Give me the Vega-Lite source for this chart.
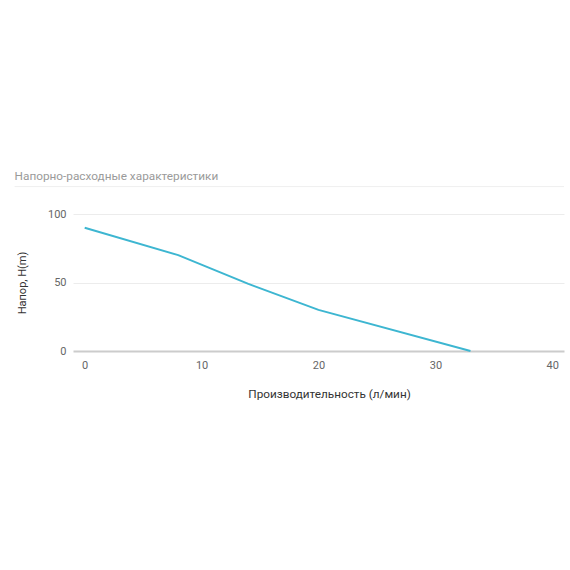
{
  "$schema": "https://vega.github.io/schema/vega-lite/v6.json",
  "width": 491,
  "height": 137,
  "autosize": {"type": "none"},
  "padding": {"left": 73, "top": 214, "right": 6, "bottom": 219},
  "background": "white",
  "config": {
    "view": {"stroke": null},
    "font": "Roboto"
  },
  "title": {
    "text": "Напорно-расходные характеристики",
    "anchor": "start",
    "dx": 2,
    "offset": 2,
    "fontSize": 11.8,
    "fontWeight": "normal",
    "color": "#9a9a9a",
    "font": "Roboto"
  },
  "datasets": {
    "curve": [
      {"q": 0, "h": 90},
      {"q": 8, "h": 70},
      {"q": 14, "h": 49},
      {"q": 20, "h": 30},
      {"q": 33, "h": 0}
    ],
    "sep": [
      {"q": -6, "h": 120},
      {"q": 41, "h": 120}
    ]
  },
  "layer": [
    {
      "data": {"name": "sep"},
      "mark": {"type": "line", "color": "#efefef", "strokeWidth": 1, "clip": false},
      "encoding": {
        "x": {"field": "q", "type": "quantitative"},
        "y": {"field": "h", "type": "quantitative"}
      }
    },
    {
      "data": {"name": "curve"},
      "mark": {"type": "line", "color": "#3db6d1", "strokeWidth": 2},
      "encoding": {
        "x": {
          "field": "q",
          "type": "quantitative",
          "scale": {"domain": [-1, 41], "nice": false, "zero": false},
          "axis": {
            "values": [0, 10, 20, 30, 40],
            "title": "Производительность (л/мин)",
            "grid": false,
            "domain": false,
            "ticks": false,
            "labelPadding": 8,
            "labelFontSize": 11,
            "labelColor": "#666",
            "labelFont": "Roboto",
            "titleFont": "Roboto",
            "titleFontSize": 11.75,
            "titleFontWeight": "normal",
            "titleColor": "#333",
            "titlePadding": 18,
            "titleX": 256
          }
        },
        "y": {
          "field": "h",
          "type": "quantitative",
          "scale": {"domain": [0, 100], "nice": false},
          "axis": {
            "values": [0, 50, 100],
            "title": "Напор, H(m)",
            "grid": true,
            "gridColor": {"condition": {"test": "datum.value === 0", "value": "#cccccc"}, "value": "#ececec"},
            "gridWidth": {"condition": {"test": "datum.value === 0", "value": 2}, "value": 1},
            "domain": false,
            "ticks": false,
            "labelPadding": 7,
            "labelFontSize": 11,
            "labelColor": "#666",
            "labelFont": "Roboto",
            "titleFont": "Roboto",
            "titleFontSize": 11,
            "titleFontWeight": "normal",
            "titleColor": "#333",
            "titlePadding": 20
          }
        }
      }
    }
  ]
}
